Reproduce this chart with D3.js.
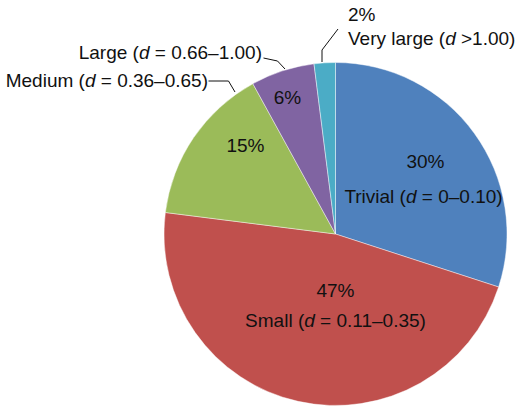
<!DOCTYPE html>
<html>
<head>
<meta charset="utf-8">
<script src="https://cdn.jsdelivr.net/npm/d3@7"></script>
<style>
  html, body { margin: 0; padding: 0; background: #fff; }
  svg { display: block; }
  text { font-family: "Liberation Sans", Arial, Helvetica, sans-serif; fill: #111; }
</style>
</head>
<body>
<svg id="chart" width="516" height="408"></svg>
<script>
// Effect-size categories (Cohen's d) and their share of results, in percent
const categories = ["Trivial", "Small", "Medium", "Large", "Very large"];
const ranges = ["= 0–0.10", "= 0.11–0.35", "= 0.36–0.65", "= 0.66–1.00", ">1.00"];
const shares = [30, 47, 15, 6, 2];
const colors = ["#4F81BD", "#C0504D", "#9BBB59", "#8064A2", "#4BACC6"];

const width = 516, height = 408;
const cx = 335.5, cy = 234, radius = 171.5;

// Label placement, as offsets from the pie centre.
// pct: percentage label; name: category label (with its anchor);
// leader: polyline from an outside name to the slice edge.
const labelLayout = [
  { pct: [90, -66], pctAnchor: "middle", name: [88, -31], anchor: "middle" },
  { pct: [0, 63], pctAnchor: "middle", name: [0, 93], anchor: "middle" },
  { pct: [-90, -82], pctAnchor: "middle", name: [-127.5, -147], anchor: "end",
    leader: [[-127, -153], [-107, -153], [-100.5, -142]] },
  { pct: [-48, -130], pctAnchor: "middle", name: [-73.5, -175], anchor: "end",
    leader: [[-72, -176], [-58, -173], [-50.5, -165]] },
  { pct: [12.5, -213], pctAnchor: "start", name: [12.5, -189], anchor: "start",
    leader: [[2.5, -205], [-13.5, -184], [-13.5, -172]] }
];

const svg = d3.select("#chart");
const g = svg.append("g").attr("transform", `translate(${cx},${cy})`);

const pie = d3.pie().sort(null).value(d => d).startAngle(0).endAngle(2 * Math.PI);
const arcs = pie(shares);
const arc = d3.arc().innerRadius(0).outerRadius(radius);

g.selectAll("path.slice")
  .data(arcs)
  .join("path")
  .attr("class", "slice")
  .attr("d", arc)
  .attr("fill", (d, i) => colors[i])
  .attr("stroke", "#ffffff")
  .attr("stroke-opacity", 0.55)
  .attr("stroke-width", 0.8);

const fontSize = 19;

function nameLabel(sel, i) {
  sel.append("tspan").text(categories[i] + " (");
  sel.append("tspan").attr("font-style", "italic").text("d");
  sel.append("tspan").text(" " + ranges[i] + ")");
}

labelLayout.forEach((L, i) => {
  g.append("text")
    .attr("x", L.pct[0])
    .attr("y", L.pct[1])
    .attr("text-anchor", L.pctAnchor)
    .attr("font-size", fontSize)
    .text(shares[i] + "%");

  const t = g.append("text")
    .attr("x", L.name[0])
    .attr("y", L.name[1])
    .attr("text-anchor", L.anchor)
    .attr("font-size", fontSize);
  nameLabel(t, i);

  if (L.leader) {
    g.append("path")
      .attr("d", d3.line()(L.leader))
      .attr("fill", "none")
      .attr("stroke", "#111")
      .attr("stroke-width", 1);
  }
});
</script>
</body>
</html>
